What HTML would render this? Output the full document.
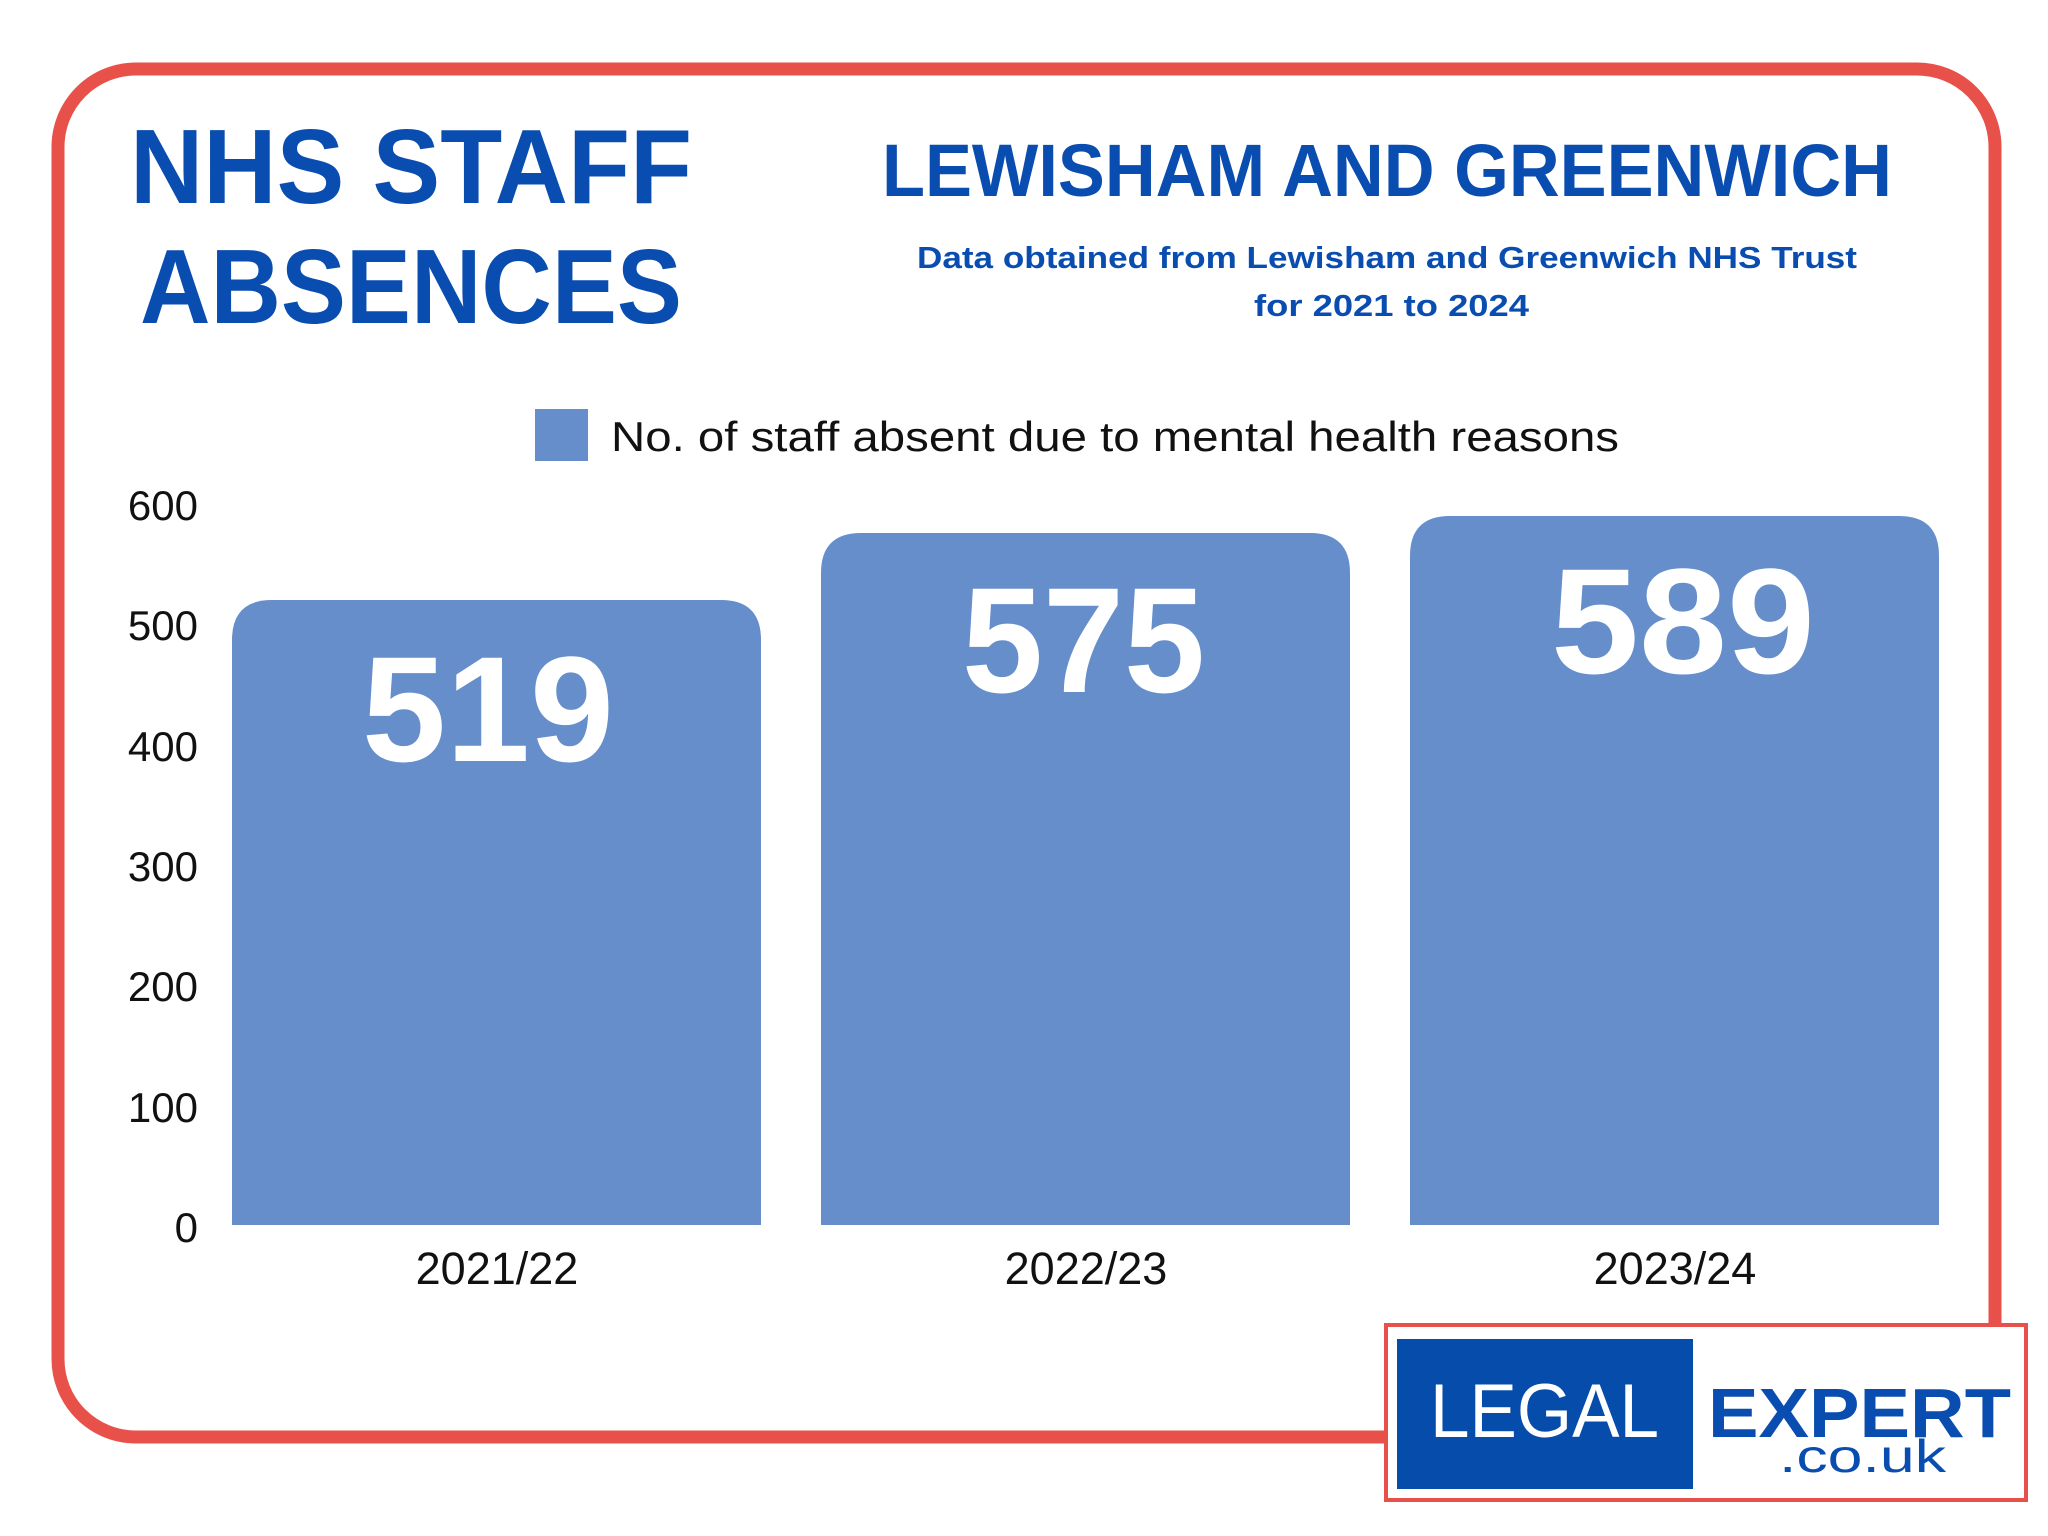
<!DOCTYPE html>
<html><head><meta charset="utf-8"><style>html,body{margin:0;padding:0;background:#fff}svg{display:block}</style></head>
<body>
<svg width="2048" height="1536" viewBox="0 0 2048 1536" xmlns="http://www.w3.org/2000/svg" font-family="Liberation Sans, sans-serif">
<rect x="0" y="0" width="2048" height="1536" fill="#fff"/>
<rect x="58" y="69" width="1937" height="1368" rx="78" ry="78" fill="none" stroke="#e8514a" stroke-width="13"/>
<g fill="#0a4db0" font-weight="bold">
<text x="130" y="203" font-size="106" textLength="562" lengthAdjust="spacingAndGlyphs">NHS STAFF</text>
<text x="140" y="323" font-size="106" textLength="542" lengthAdjust="spacingAndGlyphs">ABSENCES</text>
<text x="882" y="196" font-size="74" textLength="1010" lengthAdjust="spacingAndGlyphs">LEWISHAM AND GREENWICH</text>
<text x="917" y="268" font-size="31" textLength="940" lengthAdjust="spacingAndGlyphs">Data obtained from Lewisham and Greenwich NHS Trust</text>
<text x="1254" y="316" font-size="31" textLength="275" lengthAdjust="spacingAndGlyphs">for 2021 to 2024</text>
</g>
<rect x="535" y="409" width="53" height="52" fill="#658ecb"/>
<text x="611" y="451" font-size="42" fill="#111" textLength="1008" lengthAdjust="spacingAndGlyphs">No. of staff absent due to mental health reasons</text>
<g font-size="42" fill="#111" text-anchor="end">
<text x="198" y="520">600</text>
<text x="198" y="640">500</text>
<text x="198" y="761">400</text>
<text x="198" y="881">300</text>
<text x="198" y="1001">200</text>
<text x="198" y="1122">100</text>
<text x="198" y="1242">0</text>
</g>
<g fill="#658ecb">
<path d="M232 1225 V640 Q232 600 272 600 H721 Q761 600 761 640 V1225 Z"/>
<path d="M821 1225 V573 Q821 533 861 533 H1310 Q1350 533 1350 573 V1225 Z"/>
<path d="M1410 1225 V556 Q1410 516 1450 516 H1899 Q1939 516 1939 556 V1225 Z"/>
</g>
<g fill="#fff" font-weight="bold" font-size="150">
<text x="362" y="761" textLength="252" lengthAdjust="spacingAndGlyphs">519</text>
<text x="962" y="692" textLength="243" lengthAdjust="spacingAndGlyphs">575</text>
<text x="1551" y="673" textLength="264" lengthAdjust="spacingAndGlyphs">589</text>
</g>
<g fill="#111" font-size="45" text-anchor="middle">
<text x="497" y="1284">2021/22</text>
<text x="1086" y="1284">2022/23</text>
<text x="1675" y="1284">2023/24</text>
</g>
<rect x="1386" y="1325" width="640" height="175" fill="#fff" stroke="#e8514a" stroke-width="4"/>
<rect x="1397" y="1339" width="296" height="150" fill="#064cab"/>
<text x="1430" y="1437" font-size="76" fill="#fff" textLength="229" lengthAdjust="spacingAndGlyphs">LEGAL</text>
<text x="1708" y="1437" font-size="70" font-weight="bold" fill="#0a4db0" textLength="303" lengthAdjust="spacingAndGlyphs">EXPERT</text>
<text x="1779" y="1472" font-size="46" fill="#0a4db0" textLength="167" lengthAdjust="spacingAndGlyphs">.co.uk</text>
</svg>
</body></html>
